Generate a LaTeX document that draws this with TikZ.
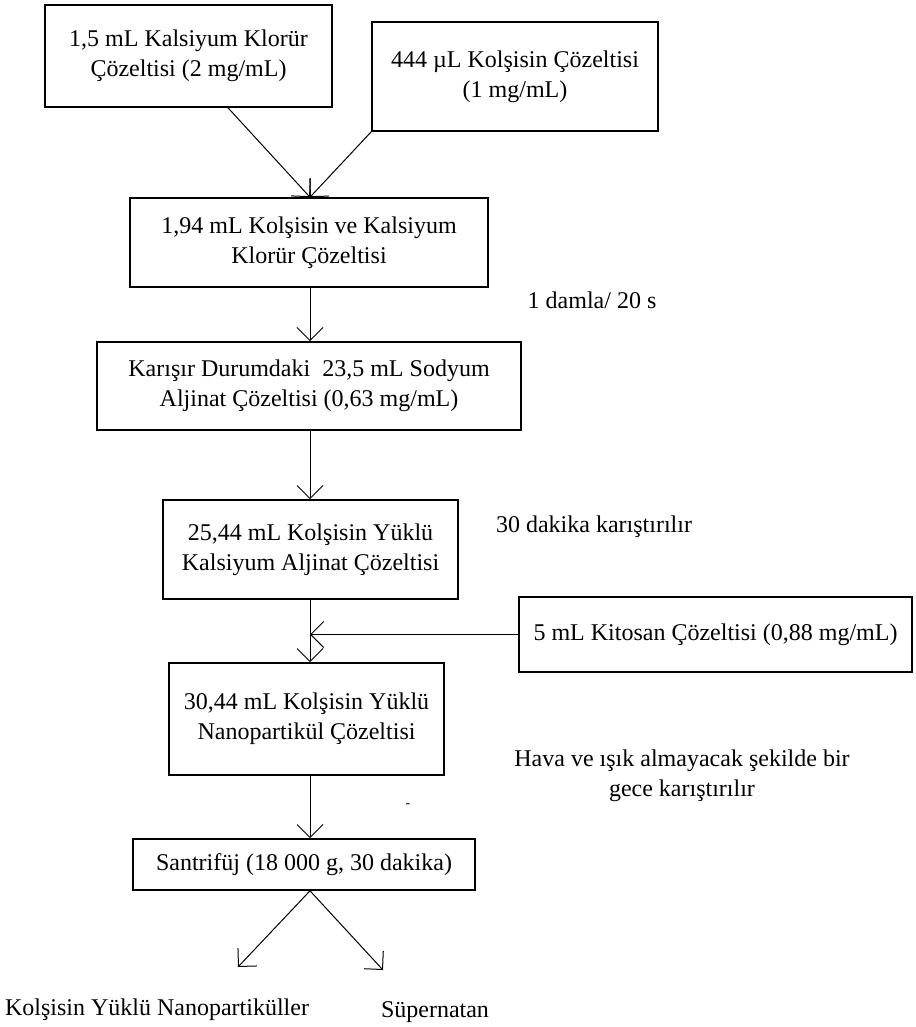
\documentclass[tikz,border=0pt]{standalone}
\usepackage{fontspec}
\setmainfont{Liberation Serif}
\usetikzlibrary{arrows.meta}
\tikzstyle{process} = [rectangle, draw=black, line width=0.8pt, align=center, inner sep=2pt, font=\fontsize{12}{15}\selectfont]
\tikzstyle{note} = [align=center, inner sep=0pt, font=\fontsize{12}{15}\selectfont]
\tikzstyle{arrow} = [line width=0.5pt, -{Straight Barb[length=6.5pt, width=13pt]}]

\begin{document}
\begin{tikzpicture}[x=0.5pt, y=-0.5pt]
    \useasboundingbox (0,0) rectangle (915,1027);
    %nodes
    \node (cacl) [process, minimum width=143.5pt, minimum height=51pt] at (188.5,56) {1,5 mL Kalsiyum Klorür\\Çözeltisi (2 mg/mL)};
    \node (kols) [process, minimum width=143pt, minimum height=54.5pt] at (515,76.5) {444 µL Kolşisin Çözeltisi\\(1 mg/mL)};
    \node (mix) [process, minimum width=179pt, minimum height=44.5pt] at (309,242.5) {1,94 mL Kolşisin ve Kalsiyum\\Klorür Çözeltisi};
    \node (alg) [process, minimum width=212pt, minimum height=44pt] at (309,386) {Karışır Durumdaki\ \ 23,5 mL Sodyum\\Aljinat Çözeltisi (0,63 mg/mL)};
    \node (calg) [process, minimum width=147.5pt, minimum height=49.5pt] at (310.5,549.5) {25,44 mL Kolşisin Yüklü\\Kalsiyum Aljinat Çözeltisi};
    \node (kit) [process, minimum width=196.5pt, minimum height=37.5pt] at (715.5,634.5) {5 mL Kitosan Çözeltisi (0,88 mg/mL)};
    \node (nano) [process, minimum width=137.5pt, minimum height=56pt] at (306.5,719) {30,44 mL Kolşisin Yüklü\\Nanopartikül Çözeltisi};
    \node (cent) [process, minimum width=171pt, minimum height=25.5pt] at (304,864.5) {Santrifüj (18 000 g, 30 dakika)};

    \node (drop) [note] at (592,300) {1 damla/ 20 s};
    \node (stir) [note] at (594,527) {30 dakika karıştırılır};
    \node (night) [note] at (682,776) {Hava ve ışık almayacak şekilde bir\\gece karıştırılır};
    \node (mark) [note, font=\scriptsize] at (408,806) {-};
    \node (np) [note] at (157,1010) {Kolşisin Yüklü Nanopartiküller};
    \node (sup) [note] at (435,1012) {Süpernatan};

    \coordinate (axis) at (310,0);
    \coordinate (npend) at (238,967);
    \coordinate (supend) at (383,970);

    %arrows
    \draw [arrow] ([xshift=19.75pt]cacl.south) -- (mix.north -| axis);
    \draw [arrow] (kols.south west) -- (mix.north -| axis);
    \draw [arrow] (mix.south -| axis) -- (alg.north -| axis);
    \draw [arrow] (alg.south -| axis) -- (calg.north -| axis);
    \draw [arrow] (calg.south -| axis) -- (nano.north -| axis);
    \draw [arrow] (kit.west) -- (kit.west -| axis);
    \draw [arrow] (nano.south -| axis) -- (cent.north -| axis);
    \draw [arrow] (cent.south -| axis) -- (npend);
    \draw [arrow] (cent.south -| axis) -- (supend);
\end{tikzpicture}
\end{document}
